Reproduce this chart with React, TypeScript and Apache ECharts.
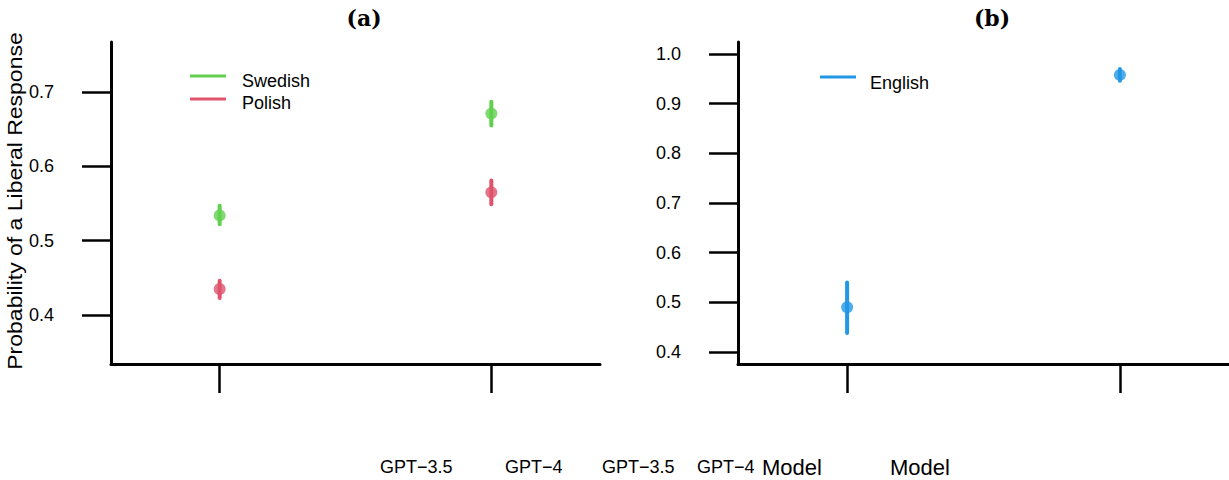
import React, { useEffect, useRef } from "react";
import * as echarts from "echarts";

const categories = ["GPT−3.5", "GPT−4"];
const xPositions = [1, 2];
const leftTicks = [0.4, 0.5, 0.6, 0.7];
const rightTicks = [0.4, 0.5, 0.6, 0.7, 0.8, 0.9, 1.0];

const swedishMean = [0.534, 0.671];
const swedishLow = [0.522, 0.655];
const swedishHigh = [0.547, 0.687];

const polishMean = [0.435, 0.565];
const polishLow = [0.423, 0.549];
const polishHigh = [0.446, 0.581];

const englishMean = [0.49, 0.958];
const englishLow = [0.438, 0.946];
const englishHigh = [0.54, 0.97];

const bottomLabels = [categories[0], categories[1], categories[0], categories[1], "Model", "Model"];

const GREEN = "#61D04F";
const RED = "#DF536B";
const BLUE = "#2297E6";
const FONT = "Liberation Sans";

function pointSeries(name: string, mean: number[], color: string, gi: number) {
  return {
    name,
    type: "scatter",
    xAxisIndex: gi,
    yAxisIndex: gi,
    symbol: "circle",
    symbolSize: 12,
    itemStyle: { color },
    z: 4,
    data: xPositions.map((x, i) => [x, mean[i]]),
  };
}

function errorSeries(name: string, lo: number[], hi: number[], color: string, gi: number) {
  return {
    name: name + " CI",
    type: "custom",
    xAxisIndex: gi,
    yAxisIndex: gi,
    z: 3,
    renderItem: (params: any, api: any) => {
      const x = api.value(0);
      const a = api.coord([x, api.value(1)]);
      const b = api.coord([x, api.value(2)]);
      return {
        type: "line",
        shape: { x1: a[0], y1: a[1], x2: b[0], y2: b[1] },
        style: { stroke: color, lineWidth: 4, lineCap: "round" },
      };
    },
    data: xPositions.map((x, i) => [x, lo[i], hi[i]]),
  };
}

function xAxis(gi: number) {
  return {
    type: "value",
    gridIndex: gi,
    min: 0.6,
    max: 2.4,
    splitLine: { show: false },
    axisLine: { show: true, onZero: false, lineStyle: { color: "#000", width: 3 } },
    axisTick: { show: true, customValues: xPositions, length: 29, lineStyle: { color: "#000", width: 2.5 } },
    axisLabel: { show: false },
  };
}

function yAxis(gi: number, min: number, max: number, ticks: number[]) {
  return {
    type: "value",
    gridIndex: gi,
    min,
    max,
    splitLine: { show: false },
    axisLine: { show: true, onZero: false, lineStyle: { color: "#000", width: 3 } },
    axisTick: { show: true, customValues: ticks, length: 29, lineStyle: { color: "#000", width: 2.5 } },
    axisLabel: {
      show: true,
      customValues: ticks,
      margin: 57,
      fontFamily: FONT,
      fontSize: 18,
      color: "#000",
      formatter: (v: number) => v.toFixed(1),
    },
  };
}

export default function App() {
  const ref = useRef<HTMLDivElement>(null);
  useEffect(() => {
    document.body.style.margin = "0";
    const chart = echarts.init(ref.current!, null, { renderer: "svg" });
    const bottomX = [380, 505, 602, 697, 762, 890];
    const titleFont = "bold 22px 'DejaVu Serif'";
    chart.setOption({
      animation: false,
      backgroundColor: "#fff",
      grid: [
        { left: 111, top: 42, width: 489, height: 322 },
        { left: 738, top: 42, width: 491, height: 322 },
      ],
      xAxis: [xAxis(0), xAxis(1)],
      yAxis: [
        yAxis(0, 0.3341, 0.7673, leftTicks),
        yAxis(1, 0.3758, 1.0242, rightTicks),
      ],
      series: [
        errorSeries("Swedish", swedishLow, swedishHigh, GREEN, 0),
        pointSeries("Swedish", swedishMean, GREEN, 0),
        errorSeries("Polish", polishLow, polishHigh, RED, 0),
        pointSeries("Polish", polishMean, RED, 0),
        errorSeries("English", englishLow, englishHigh, BLUE, 1),
        pointSeries("English", englishMean, BLUE, 1),
      ],
      graphic: [
        {
          type: "text",
          x: 364,
          y: 18,
          style: { text: "(a)", font: titleFont, fill: "#000", textAlign: "center", textVerticalAlign: "middle" },
        },
        {
          type: "text",
          x: 992,
          y: 18,
          style: { text: "(b)", font: titleFont, fill: "#000", textAlign: "center", textVerticalAlign: "middle" },
        },
        {
          type: "text",
          x: 15,
          y: 201,
          rotation: Math.PI / 2,
          scaleY: 0.9,
          style: { text: "Probability of a Liberal Response", font: `23px '${FONT}'`, fill: "#000", textAlign: "center", textVerticalAlign: "middle" },
        },
        { type: "line", shape: { x1: 190, y1: 76, x2: 226, y2: 76 }, style: { stroke: GREEN, lineWidth: 3 } },
        { type: "text", x: 242, y: 81, style: { text: "Swedish", font: `18px '${FONT}'`, fill: "#000", textVerticalAlign: "middle" } },
        { type: "line", shape: { x1: 190, y1: 99, x2: 226, y2: 99 }, style: { stroke: RED, lineWidth: 3 } },
        { type: "text", x: 242, y: 103, style: { text: "Polish", font: `18px '${FONT}'`, fill: "#000", textVerticalAlign: "middle" } },
        { type: "line", shape: { x1: 820, y1: 77, x2: 856, y2: 77 }, style: { stroke: BLUE, lineWidth: 3 } },
        { type: "text", x: 870, y: 83, style: { text: "English", font: `18px '${FONT}'`, fill: "#000", textVerticalAlign: "middle" } },
        ...bottomLabels.map((t, i) => ({
          type: "text",
          x: bottomX[i],
          y: 467,
          style: {
            text: t,
            font: `${t === "Model" ? 22 : 18}px '${FONT}'`,
            fill: "#000",
            textVerticalAlign: "middle",
          },
        })),
      ],
    });
    return () => chart.dispose();
  }, []);
  return <div ref={ref} style={{ width: 1229, height: 480 }} />;
}
